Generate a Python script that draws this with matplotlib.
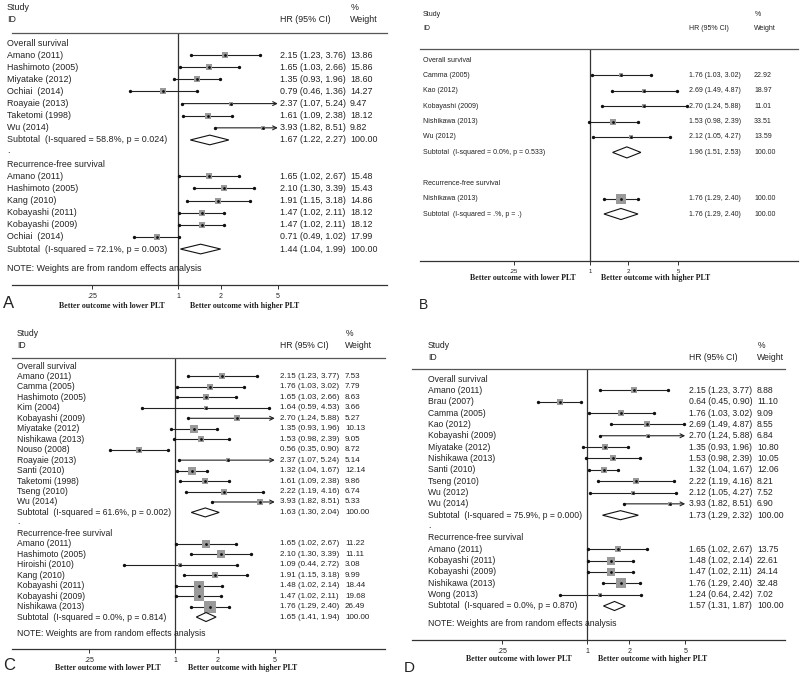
import numpy as np
import matplotlib
matplotlib.use("Agg")
import matplotlib.pyplot as plt
from matplotlib.patches import Polygon
from matplotlib.transforms import blended_transform_factory
from matplotlib.ticker import NullLocator

# ---------------- DATA ----------------
# Panel A
A_os_names = ["Amano (2011)", "Hashimoto (2005)", "Miyatake (2012)", "Ochiai  (2014)",
              "Roayaie (2013)", "Taketomi (1998)", "Wu (2014)"]
A_os_hr = [2.15, 1.65, 1.35, 0.79, 2.37, 1.61, 3.93]
A_os_lo = [1.23, 1.03, 0.93, 0.46, 1.07, 1.09, 1.82]
A_os_hi = [3.76, 2.66, 1.96, 1.36, 5.24, 2.38, 8.51]
A_os_w = [13.86, 15.86, 18.60, 14.27, 9.47, 18.12, 9.82]
A_os_sub = [1.67, 1.22, 2.27]
A_os_sub_label = "Subtotal  (I-squared = 58.8%, p = 0.024)"
A_rfs_names = ["Amano (2011)", "Hashimoto (2005)", "Kang (2010)", "Kobayashi (2011)",
               "Kobayashi (2009)", "Ochiai  (2014)"]
A_rfs_hr = [1.65, 2.10, 1.91, 1.47, 1.47, 0.71]
A_rfs_lo = [1.02, 1.30, 1.15, 1.02, 1.02, 0.49]
A_rfs_hi = [2.67, 3.39, 3.18, 2.11, 2.11, 1.02]
A_rfs_w = [15.48, 15.43, 14.86, 18.12, 18.12, 17.99]
A_rfs_sub = [1.44, 1.04, 1.99]
A_rfs_sub_label = "Subtotal  (I-squared = 72.1%, p = 0.003)"

# Panel B
B_os_names = ["Camma (2005)", "Kao (2012)", "Kobayashi (2009)", "Nishikawa (2013)", "Wu (2012)"]
B_os_hr = [1.76, 2.69, 2.70, 1.53, 2.12]
B_os_lo = [1.03, 1.49, 1.24, 0.98, 1.05]
B_os_hi = [3.02, 4.87, 5.88, 2.39, 4.27]
B_os_w = [22.92, 18.97, 11.01, 33.51, 13.59]
B_os_sub = [1.96, 1.51, 2.53]
B_os_sub_label = "Subtotal  (I-squared = 0.0%, p = 0.533)"
B_rfs_names = ["Nishikawa (2013)"]
B_rfs_hr = [1.76]
B_rfs_lo = [1.29]
B_rfs_hi = [2.40]
B_rfs_w = [100.00]
B_rfs_sub = [1.76, 1.29, 2.40]
B_rfs_sub_label = "Subtotal  (I-squared = .%, p = .)"

# Panel C
C_os_names = ["Amano (2011)", "Camma (2005)", "Hashimoto (2005)", "Kim (2004)",
              "Kobayashi (2009)", "Miyatake (2012)", "Nishikawa (2013)", "Nouso (2008)",
              "Roayaie (2013)", "Santi (2010)", "Taketomi (1998)", "Tseng (2010)", "Wu (2014)"]
C_os_hr = [2.15, 1.76, 1.65, 1.64, 2.70, 1.35, 1.53, 0.56, 2.37, 1.32, 1.61, 2.22, 3.93]
C_os_lo = [1.23, 1.03, 1.03, 0.59, 1.24, 0.93, 0.98, 0.35, 1.07, 1.04, 1.09, 1.19, 1.82]
C_os_hi = [3.77, 3.02, 2.66, 4.53, 5.88, 1.96, 2.39, 0.90, 5.24, 1.67, 2.38, 4.16, 8.51]
C_os_w = [7.53, 7.79, 8.63, 3.66, 5.27, 10.13, 9.05, 8.72, 5.14, 12.14, 9.86, 6.74, 5.33]
C_os_sub = [1.63, 1.30, 2.04]
C_os_sub_label = "Subtotal  (I-squared = 61.6%, p = 0.002)"
C_rfs_names = ["Amano (2011)", "Hashimoto (2005)", "Hiroishi (2010)", "Kang (2010)",
               "Kobayashi (2011)", "Kobayashi (2009)", "Nishikawa (2013)"]
C_rfs_hr = [1.65, 2.10, 1.09, 1.91, 1.48, 1.47, 1.76]
C_rfs_lo = [1.02, 1.30, 0.44, 1.15, 1.02, 1.02, 1.29]
C_rfs_hi = [2.67, 3.39, 2.72, 3.18, 2.14, 2.11, 2.40]
C_rfs_w = [11.22, 11.11, 3.08, 9.99, 18.44, 19.68, 26.49]
C_rfs_sub = [1.65, 1.41, 1.94]
C_rfs_sub_label = "Subtotal  (I-squared = 0.0%, p = 0.814)"

# Panel D
D_os_names = ["Amano (2011)", "Brau (2007)", "Camma (2005)", "Kao (2012)", "Kobayashi (2009)",
              "Miyatake (2012)", "Nishikawa (2013)", "Santi (2010)", "Tseng (2010)",
              "Wu (2012)", "Wu (2014)"]
D_os_hr = [2.15, 0.64, 1.76, 2.69, 2.70, 1.35, 1.53, 1.32, 2.22, 2.12, 3.93]
D_os_lo = [1.23, 0.45, 1.03, 1.49, 1.24, 0.93, 0.98, 1.04, 1.19, 1.05, 1.82]
D_os_hi = [3.77, 0.90, 3.02, 4.87, 5.88, 1.96, 2.39, 1.67, 4.16, 4.27, 8.51]
D_os_w = [8.88, 11.10, 9.09, 8.55, 6.84, 10.80, 10.05, 12.06, 8.21, 7.52, 6.90]
D_os_sub = [1.73, 1.29, 2.32]
D_os_sub_label = "Subtotal  (I-squared = 75.9%, p = 0.000)"
D_rfs_names = ["Amano (2011)", "Kobayashi (2011)", "Kobayashi (2009)", "Nishikawa (2013)",
               "Wong (2013)"]
D_rfs_hr = [1.65, 1.48, 1.47, 1.76, 1.24]
D_rfs_lo = [1.02, 1.02, 1.02, 1.29, 0.64]
D_rfs_hi = [2.67, 2.14, 2.11, 2.40, 2.42]
D_rfs_w = [13.75, 22.61, 24.14, 32.48, 7.02]
D_rfs_sub = [1.57, 1.31, 1.87]
D_rfs_sub_label = "Subtotal  (I-squared = 0.0%, p = 0.870)"

tick_vals = [0.25, 1, 2, 5]
tick_labels = [".25", "1", "2", "5"]
group_os = "Overall survival"
group_rfs = "Recurrence-free survival"
note_text = "NOTE: Weights are from random effects analysis"
left_label = "Better outcome with lower PLT"
right_label = "Better outcome with higher PLT"

# ---------------- LAYOUT ----------------
W, H = 800, 677
fig = plt.figure(figsize=(W / 100, H / 100), dpi=100)
fig.patch.set_facecolor("white")
SANS = "Liberation Sans"
SERIF = "Liberation Serif"
TXT = "#222222"


def fx(px):
    return px / W


def fy(py):
    return 1 - py / H


panels = [
    dict(letter="A", key="A", x1=178, ppl=62.0, left=12, right=387, top=33, bot=285,
         row0=43, sp=12.12, name_x=7, hr_x=280, w_x=350, study_y=7, id_y=20,
         lab_y=306, lab_c=(112, 245), tick_fs=5.0, let_xy=(3, 304), let_fs=12,
         k=1.4, dh=0.4, clip=5.0, fs=6.4, nfs=6.4, dot=True, note_row=18.6, lab_fs=5.7),
    dict(letter="B", key="B", x1=590, ppl=54.8, left=420, right=798, top=49, bot=261,
         row0=60, sp=15.4, name_x=423, hr_x=689, w_x=754, study_y=14, id_y=29,
         lab_y=278, lab_c=(523, 656), tick_fs=4.3, let_xy=(419, 305), let_fs=10,
         k=1.0, dh=0.36, clip=None, fs=5.0, nfs=5.0, dot=False, note_row=None, lab_fs=5.7),
    dict(letter="C", key="C", x1=175, ppl=62.0, left=12, right=385, top=358, bot=649,
         row0=366, sp=10.46, name_x=17, hr_x=280, w_x=345, study_y=334, id_y=345,
         lab_y=668, lab_c=(108, 243), tick_fs=5.0, let_xy=(3, 666), let_fs=12,
         k=2.2, dh=0.43, clip=5.0, fs=6.2, nfs=5.8, dot=True, note_row=25.6, lab_fs=5.7),
    dict(letter="D", key="D", x1=587, ppl=61.0, left=412, right=785, top=369, bot=640,
         row0=379, sp=11.35, name_x=428, hr_x=689, w_x=757, study_y=346, id_y=357,
         lab_y=659, lab_c=(519, 653), tick_fs=5.0, let_xy=(404, 668), let_fs=11,
         k=1.8, dh=0.4, clip=5.0, fs=6.2, nfs=6.2, dot=True, note_row=21.5, lab_fs=5.7),
]

datasets = {
    "A": dict(os=(A_os_names, A_os_hr, A_os_lo, A_os_hi, A_os_w, A_os_sub, A_os_sub_label),
              rfs=(A_rfs_names, A_rfs_hr, A_rfs_lo, A_rfs_hi, A_rfs_w, A_rfs_sub, A_rfs_sub_label)),
    "B": dict(os=(B_os_names, B_os_hr, B_os_lo, B_os_hi, B_os_w, B_os_sub, B_os_sub_label),
              rfs=(B_rfs_names, B_rfs_hr, B_rfs_lo, B_rfs_hi, B_rfs_w, B_rfs_sub, B_rfs_sub_label)),
    "C": dict(os=(C_os_names, C_os_hr, C_os_lo, C_os_hi, C_os_w, C_os_sub, C_os_sub_label),
              rfs=(C_rfs_names, C_rfs_hr, C_rfs_lo, C_rfs_hi, C_rfs_w, C_rfs_sub, C_rfs_sub_label)),
    "D": dict(os=(D_os_names, D_os_hr, D_os_lo, D_os_hi, D_os_w, D_os_sub, D_os_sub_label),
              rfs=(D_rfs_names, D_rfs_hr, D_rfs_lo, D_rfs_hi, D_rfs_w, D_rfs_sub, D_rfs_sub_label)),
}

for p in panels:
    ax = fig.add_axes([fx(p["left"]), fy(p["bot"]), (p["right"] - p["left"]) / W,
                       (p["bot"] - p["top"]) / H])
    ax.set_xscale("log")
    ax.set_xlim(np.exp((p["left"] - p["x1"]) / p["ppl"]), np.exp((p["right"] - p["x1"]) / p["ppl"]))
    ax.set_ylim((p["bot"] - p["row0"]) / p["sp"], (p["top"] - p["row0"]) / p["sp"])
    for s in ("left", "right"):
        ax.spines[s].set_visible(False)
    ax.spines["top"].set_color("#555555")
    ax.spines["top"].set_linewidth(0.9)
    ax.spines["bottom"].set_color("#333333")
    ax.spines["bottom"].set_linewidth(0.9)
    ax.set_yticks([])
    ax.xaxis.set_minor_locator(NullLocator())
    ax.set_xticks(tick_vals)
    ax.set_xticklabels(tick_labels, fontfamily=SANS, fontsize=p["tick_fs"], color=TXT)
    ax.tick_params(axis="x", length=3, width=0.7, pad=2.5, color="#333333")
    ax.axvline(1, color="#333333", lw=0.9, zorder=1)
    ax.patch.set_alpha(0)

    tr = blended_transform_factory(fig.transFigure, ax.transData)
    fs = p["fs"]
    nfs = p["nfs"]

    def txt(xpx, row, s, size):
        ax.text(fx(xpx), row, s, transform=tr, fontsize=size, fontfamily=SANS, color=TXT,
                va="center", ha="left", clip_on=False)

    ds = datasets[p["key"]]
    row = 0
    blocks = [(group_os, ds["os"]), (group_rfs, ds["rfs"])]
    for bi, (gname, blk) in enumerate(blocks):
        names, hr, lo, hi, w, sub, sublab = blk
        txt(p["name_x"], row, gname, fs)
        row += 1
        for i in range(len(names)):
            y = row
            txt(p["name_x"], y, names[i], fs)
            txt(p["hr_x"], y, f"{hr[i]:.2f} ({lo[i]:.2f}, {hi[i]:.2f})", nfs)
            txt(p["w_x"], y, f"{w[i]:.2f}", nfs)
            if p["clip"] is not None and hi[i] > p["clip"]:
                ax.annotate("", xy=(p["clip"], y), xytext=(lo[i], y),
                            arrowprops=dict(arrowstyle="->", color="#222222", lw=0.8,
                                            shrinkA=0, shrinkB=0, mutation_scale=7), zorder=2)
                ax.plot([lo[i]], [y], "o", ms=1.4, color="#111111", zorder=2)
            else:
                ax.plot([lo[i], hi[i]], [y, y], "-", lw=0.8, color="#222222", zorder=2)
                ax.plot([lo[i], hi[i]], [y, y], "o", ms=1.4, color="#111111", zorder=2)
            side_pt = max(p["k"] * np.sqrt(w[i]), 4.0) * 0.72
            ax.plot([hr[i]], [y], marker="s", ms=side_pt, color="#9a9a9a", mew=0,
                    linestyle="none", zorder=3, snap=False)
            ax.plot([hr[i]], [y], marker="o", ms=2.0, color="#111111", mew=0,
                    linestyle="none", zorder=4, snap=False)
            row += 1
        # subtotal
        txt(p["name_x"], row, sublab, fs)
        txt(p["hr_x"], row, f"{sub[0]:.2f} ({sub[1]:.2f}, {sub[2]:.2f})", nfs)
        txt(p["w_x"], row, "100.00", nfs)
        dh = p["dh"]
        poly = Polygon([(sub[1], row), (sub[0], row - dh), (sub[2], row), (sub[0], row + dh)],
                       closed=True, facecolor="white", edgecolor="#111111", lw=0.8, zorder=3)
        ax.add_patch(poly)
        row += 1
        if bi == 0:
            if p["dot"]:
                txt(p["name_x"], row - 0.1, ".", fs)
            row += 1
    if p["note_row"] is not None:
        txt(p["name_x"], p["note_row"], note_text, fs)

    # headers
    hf = dict(fontsize=fs, fontfamily=SANS, color=TXT, va="center", ha="left")
    fig.text(fx(p["name_x"]), fy(p["study_y"]), "Study", **hf)
    fig.text(fx(p["name_x"]), fy(p["id_y"]), "ID", **hf)
    fig.text(fx(p["hr_x"]), fy(p["id_y"]), "HR (95% CI)", **hf)
    fig.text(fx(p["w_x"] + 1), fy(p["study_y"]), "%", **hf)
    fig.text(fx(p["w_x"]), fy(p["id_y"]), "Weight", **hf)

    # outcome labels
    lf = dict(fontsize=p["lab_fs"], fontfamily=SERIF, fontweight="bold", color=TXT,
              va="center", ha="center")
    fig.text(fx(p["lab_c"][0]), fy(p["lab_y"]), left_label, **lf)
    fig.text(fx(p["lab_c"][1]), fy(p["lab_y"]), right_label, **lf)

    # panel letter
    fig.text(fx(p["let_xy"][0]), fy(p["let_xy"][1]), p["letter"], fontsize=p["let_fs"],
             fontfamily=SANS, color=TXT, va="center", ha="left")

fig.savefig("out.png", dpi=100, facecolor="white")
